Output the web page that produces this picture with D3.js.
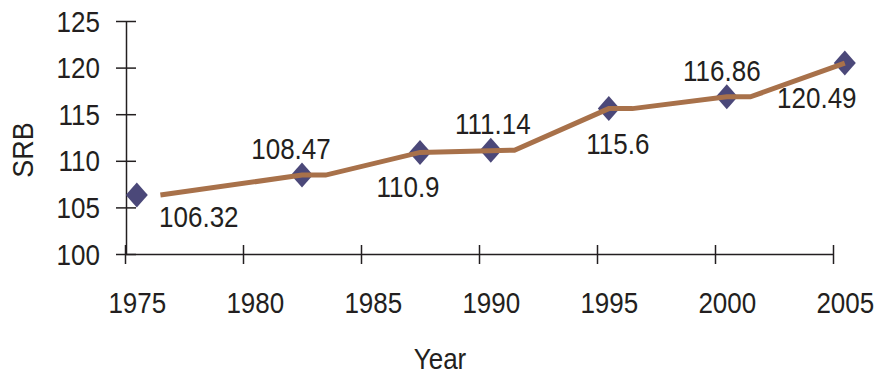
<!DOCTYPE html>
<html><head><meta charset="utf-8">
<script src="https://cdn.jsdelivr.net/npm/d3@7"></script>
<style>
html,body{margin:0;padding:0;background:#fff;}
svg{display:block;}
text{font-family:"Liberation Sans",Arial,Helvetica,sans-serif;fill:#231f20;}
</style></head><body>
<svg id="chart" width="881" height="374"></svg>
<script>
// Sex ratio at birth (SRB) by survey year
const years = [1975, 1982, 1987, 1990, 1995, 2000, 2005];
const srb = [106.32, 108.47, 110.9, 111.14, 115.6, 116.86, 120.49];

// Vertices of the connecting trend line
const lineYears = [1976, 1982, 1983, 1987, 1991, 1995, 1996, 2000, 2001, 2005];
const lineSrb = [106.32, 108.47, 108.47, 110.9, 111.14, 115.6, 115.6, 116.86, 116.86, 120.49];

// Axis ticks
const xTicks = [1975, 1980, 1985, 1990, 1995, 2000, 2005];
const yTicks = [100, 105, 110, 115, 120, 125];

// Label placement: 1 = above the marker, -1 = below
const labelSide = [-1, 1, -1, 1, -1, 1, -1];
const labelShift = [62, -11, -12, 2, 9, -5, -28];

const ink = '#231f20';
const stretch = 1.1;
const svg = d3.select('#chart');

const x = d3.scaleLinear().domain([1975, 2005]).range([125, 833]);
const y = d3.scaleLinear().domain([100, 125]).range([254, 21]);
const halfYear = x(1975.5) - x(1975);
const mid = yr => x(yr) + halfYear;

// Y axis
const gy = svg.append('g').attr('transform', 'translate(126,0)')
  .call(d3.axisLeft(y).tickValues(yTicks).tickSize(10).tickSizeOuter(0));
gy.attr('font-size', null).attr('font-family', null);
gy.select('.domain').attr('stroke', ink).attr('stroke-width', 1.5);
gy.selectAll('.tick line').attr('x1', 10).attr('x2', -10).attr('stroke', ink).attr('stroke-width', 1.5);
gy.selectAll('.tick text')
  .attr('x', null).attr('dy', null)
  .attr('text-anchor', 'end')
  .attr('font-size', 26)
  .attr('fill', ink)
  .attr('transform', `translate(-26,10) scale(1,${stretch})`);

// X axis
const gx = svg.append('g').attr('transform', 'translate(0,254)')
  .call(d3.axisBottom(x).tickValues(xTicks).tickFormat(d3.format('d')).tickSize(10).tickSizeOuter(0));
gx.attr('font-size', null).attr('font-family', null);
gx.select('.domain').attr('stroke', ink).attr('stroke-width', 1.5);
gx.selectAll('.tick line').attr('y1', -9).attr('y2', 10).attr('stroke', ink).attr('stroke-width', 1.5);
gx.selectAll('.tick text')
  .attr('y', null).attr('dy', null)
  .attr('text-anchor', 'middle')
  .attr('font-size', 26)
  .attr('fill', ink)
  .attr('transform', `translate(${halfYear},59) scale(1,${stretch})`);

// Axis titles
svg.append('text')
  .attr('transform', `translate(440,369) scale(1,${stretch})`)
  .attr('text-anchor', 'middle').attr('font-size', 26)
  .text('Year');
svg.append('text')
  .attr('transform', `translate(33,150) scale(${stretch},1) rotate(-90)`)
  .attr('text-anchor', 'middle').attr('font-size', 27)
  .text('SRB');

// Markers
svg.append('g').selectAll('path')
  .data(years)
  .join('path')
  .attr('d', 'M0,-12.5L11,0L0,12.5L-11,0Z')
  .attr('fill', '#4b4879')
  .attr('transform', (d, i) => `translate(${mid(d)},${y(srb[i])})`);

// Trend line
const line = d3.line()
  .x((d, i) => mid(lineYears[i]))
  .y(d => y(d));
svg.append('path')
  .datum(lineSrb)
  .attr('d', line)
  .attr('fill', 'none')
  .attr('stroke', '#a8714a')
  .attr('stroke-width', 5)
  .attr('stroke-linejoin', 'miter');

// Value labels
svg.append('g').selectAll('text')
  .data(years)
  .join('text')
  .attr('text-anchor', 'middle')
  .attr('font-size', 26)
  .attr('transform', (d, i) => {
    const dy = labelSide[i] > 0 ? -16 : (i === 0 ? 32 : 45);
    return `translate(${mid(d) + labelShift[i]},${y(srb[i]) + dy}) scale(1,${stretch})`;
  })
  .text((d, i) => srb[i]);
</script>
</body></html>
